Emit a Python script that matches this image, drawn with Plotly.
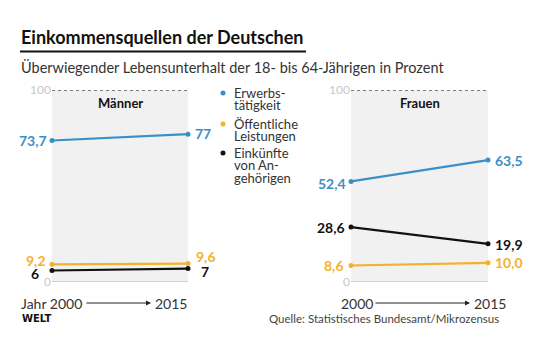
import plotly.graph_objects as go

W, H = 540, 360
years = [2000, 2015]
panels = ["Männer", "Frauen"]
series = ["Erwerbstätigkeit", "Öffentliche Leistungen", "Einkünfte von Angehörigen"]
maenner = {"Erwerbstätigkeit": [73.7, 77.0], "Öffentliche Leistungen": [9.2, 9.6], "Einkünfte von Angehörigen": [6.0, 7.0]}
frauen = {"Erwerbstätigkeit": [52.4, 63.5], "Öffentliche Leistungen": [8.6, 10.0], "Einkünfte von Angehörigen": [28.6, 19.9]}
maenner_labels = {"Erwerbstätigkeit": ["73,7", "77"], "Öffentliche Leistungen": ["9,2", "9,6"], "Einkünfte von Angehörigen": ["6", "7"]}
frauen_labels = {"Erwerbstätigkeit": ["52,4", "63,5"], "Öffentliche Leistungen": ["8,6", "10,0"], "Einkünfte von Angehörigen": ["28,6", "19,9"]}
legend_lines = [["Erwerbs-", "tätigkeit"], ["Öffentliche", "Leistungen"], ["Einkünfte", "von An-", "gehörigen"]]
colors = {"Erwerbstätigkeit": "#3b8fc8", "Öffentliche Leistungen": "#f2b22a", "Einkünfte von Angehörigen": "#111111"}

FONT = "Lato"

def px(x):
    return x / W

def py(y):
    return 1 - y / H

fig = go.Figure()
xdom = [[px(52), px(188)], [px(351), px(488)]]
ydom = [py(282), py(90)]

# label pixel shifts per panel/series/year: (xshift, yshift)
shifts = {
    0: {"Erwerbstätigkeit": [(-3, 0), (5, 1)],
        "Öffentliche Leistungen": [(-4, 4), (6, 7)],
        "Einkünfte von Angehörigen": [(-11, -3), (11, -3)]},
    1: {"Erwerbstätigkeit": [(-3, -2), (5, 0)],
        "Öffentliche Leistungen": [(-5, 0), (5, 0)],
        "Einkünfte von Angehörigen": [(-4, 0), (5, -1)]},
}

annotations = []
shapes = []
for i, (data, labels) in enumerate([(maenner, maenner_labels), (frauen, frauen_labels)]):
    xa = "x" if i == 0 else "x2"
    ya = "y" if i == 0 else "y2"
    for s in series:
        fig.add_trace(go.Scatter(
            x=years, y=data[s], mode="lines+markers",
            line=dict(color=colors[s], width=2.2),
            marker=dict(color=colors[s], size=5),
            xaxis=xa, yaxis=ya, cliponaxis=False, showlegend=False, hoverinfo="skip"))
        for j in range(2):
            xs, ys = shifts[i][s][j]
            annotations.append(dict(
                x=years[j], y=data[s][j], xref=xa, yref=ya,
                text="<b>%s</b>" % labels[s][j], showarrow=False,
                xanchor="right" if j == 0 else "left",
                xshift=xs, yshift=ys,
                font=dict(family=FONT, size=14, color=colors[s])))
    # panel title
    annotations.append(dict(x=0.5, y=py(103), xref=xa + " domain", yref="paper", text="<b>%s</b>" % panels[i],
                            showarrow=False, yanchor="middle", font=dict(family=FONT, size=13, color="#111")))
    # dotted top line, solid bottom line
    shapes.append(dict(type="line", xref=xa + " domain", yref=ya, x0=0, x1=1, y0=100, y1=100,
                       line=dict(color="#555", width=1.3, dash="dot")))
    shapes.append(dict(type="line", xref=xa + " domain", yref=ya, x0=0, x1=1, y0=0, y1=0,
                       line=dict(color="#b0b0b0", width=1)))

axis_common = dict(showgrid=False, zeroline=False, showline=False, automargin=False)
fig.update_layout(
    width=W, height=H, margin=dict(l=0, r=0, t=0, b=0, pad=0),
    paper_bgcolor="white", plot_bgcolor="#f1f1f1",
    xaxis=dict(domain=xdom[0], range=[2000, 2015], showticklabels=False, ticks="", **axis_common),
    xaxis2=dict(domain=xdom[1], range=[2000, 2015], showticklabels=False, ticks="", **axis_common),
    yaxis=dict(domain=ydom, range=[0, 100], tickvals=[0, 100], ticktext=["0", "100"], ticks="",
               tickfont=dict(family=FONT, size=12, color="#c8c8c8"), anchor="x", **axis_common),
    yaxis2=dict(domain=ydom, range=[0, 100], tickvals=[0, 100], ticktext=["0", "100"], ticks="",
                tickfont=dict(family=FONT, size=12, color="#c8c8c8"), anchor="x2", **axis_common),
)

# Title, underline, subtitle
annotations.append(dict(x=px(19), y=py(37), xref="paper", yref="paper", xanchor="left", yanchor="middle",
                        text="<b>Einkommensquellen der Deutschen</b>", showarrow=False,
                        font=dict(family=FONT, size=18, color="#111")))
shapes.append(dict(type="line", xref="paper", yref="paper", x0=px(20), x1=px(306), y0=py(51.5), y1=py(51.5),
                   line=dict(color="#111", width=2)))
annotations.append(dict(x=px(19), y=py(67), xref="paper", yref="paper", xanchor="left", yanchor="middle",
                        text="Überwiegender Lebensunterhalt der 18- bis 64-Jährigen in Prozent", showarrow=False,
                        font=dict(family=FONT, size=14.5, color="#333")))

# Legend (each line as its own text for tight line spacing)
leg_y = [93, 124, 153]
for k, s in enumerate(series):
    shapes.append(dict(type="circle", xref="paper", yref="paper",
                       x0=px(220.5), x1=px(225.5), y0=py(leg_y[k] + 2.5), y1=py(leg_y[k] - 2.5),
                       fillcolor=colors[s], line=dict(width=0)))
    for m, line in enumerate(legend_lines[k]):
        annotations.append(dict(x=px(232), y=py(leg_y[k] + 12.3 * m), xref="paper", yref="paper", xanchor="left",
                                yanchor="middle", text=line, showarrow=False,
                                font=dict(family=FONT, size=13, color="#333")))

# Bottom year axis labels with arrows
def year_axis(x_start_text, start_text, x_arrow0, x_arrow1, x_end):
    annotations.append(dict(x=px(x_start_text), y=py(303), xref="paper", yref="paper", xanchor="left",
                            yanchor="middle", text=start_text, showarrow=False,
                            font=dict(family=FONT, size=14, color="#333")))
    annotations.append(dict(x=px(x_arrow1), y=py(303), xref="paper", yref="paper", ax=x_arrow0 - x_arrow1, ay=0,
                            text="", showarrow=True, arrowhead=2, arrowsize=1, arrowwidth=1, arrowcolor="#222"))
    annotations.append(dict(x=px(x_end), y=py(303), xref="paper", yref="paper", xanchor="left",
                            yanchor="middle", text=str(years[1]), showarrow=False,
                            font=dict(family=FONT, size=14, color="#333")))

year_axis(19, "Jahr %d" % years[0], 85, 151, 153)
year_axis(339, str(years[0]), 374, 470, 472)

annotations.append(dict(x=px(20), y=py(318), xref="paper", yref="paper", xanchor="left", yanchor="middle",
                        text="<b>WELT</b>", showarrow=False, font=dict(family="DejaVu Sans", size=10, color="#111")))
annotations.append(dict(x=px(501), y=py(318), xref="paper", yref="paper", xanchor="right", yanchor="middle",
                        text="Quelle: Statistisches Bundesamt/Mikrozensus", showarrow=False,
                        font=dict(family=FONT, size=11.5, color="#444")))

fig.update_layout(annotations=annotations, shapes=shapes)
fig.write_html("out.html", config={"displayModeBar": False},
               post_script="document.body.style.margin='0';document.body.style.overflow='hidden';")
